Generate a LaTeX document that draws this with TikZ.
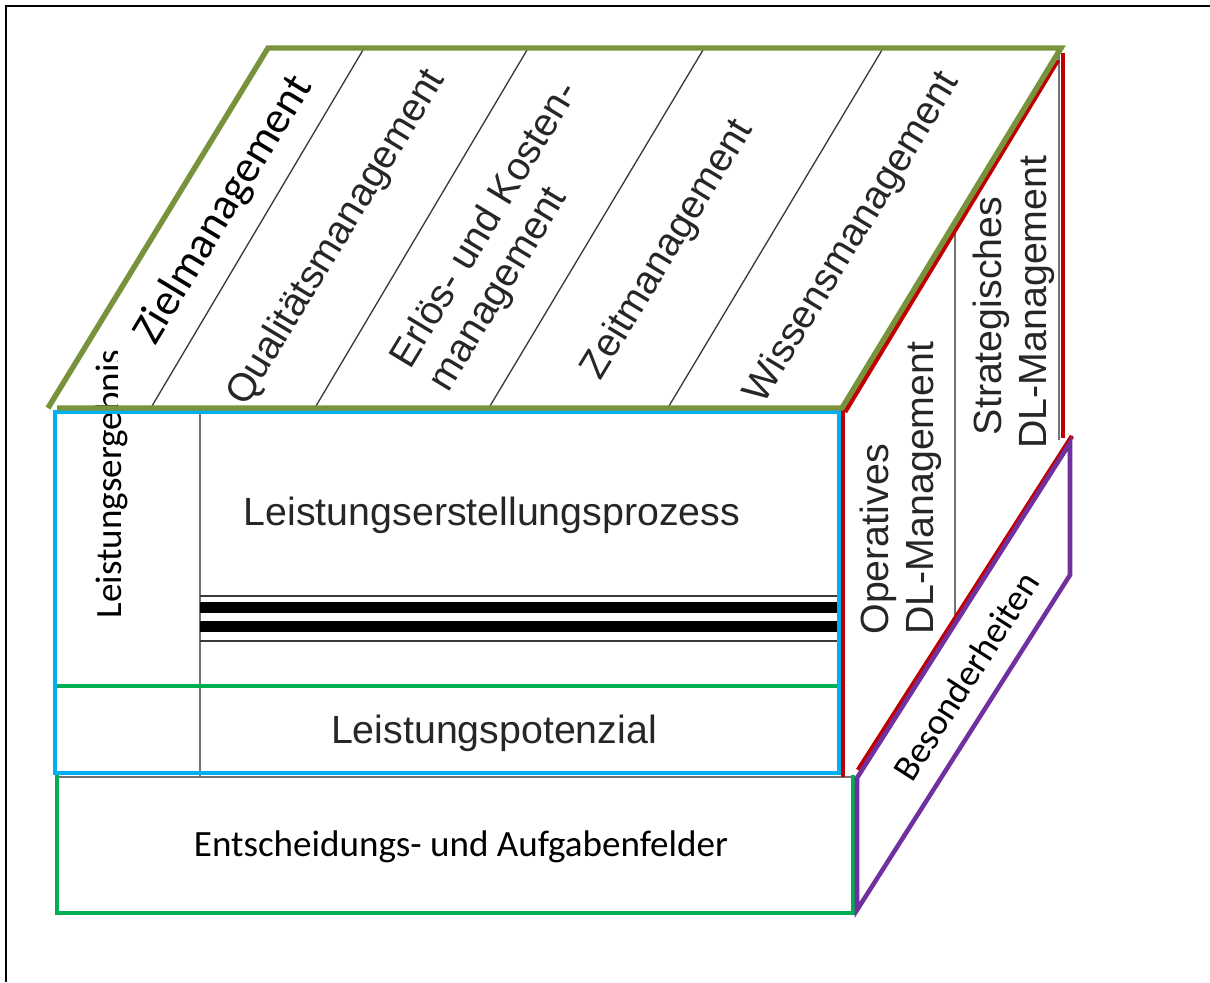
\documentclass[tikz,border=0pt]{standalone}
\usepackage{fontspec}
\newfontfamily\calfont{Carlito}
\newfontfamily\arialfont{Liberation Sans}
\definecolor{cOlive}{HTML}{77933C}
\definecolor{cRed}{HTML}{C00000}
\definecolor{cCyan}{HTML}{00B0F0}
\definecolor{cGreen}{HTML}{00B050}
\definecolor{cPurple}{HTML}{7030A0}
\definecolor{cText}{HTML}{262626}
\definecolor{cLine}{HTML}{3A3A3A}
\tikzset{
  arialtxt/.style={font=\arialfont\fontsize{29.5pt}{33.5pt}\selectfont, text=cText, inner sep=0pt},
  caltxt/.style={font=\calfont\fontsize{27.8pt}{33pt}\selectfont, text=black, inner sep=0pt},
  zieltxt/.style={font=\calfont\fontsize{33.5pt}{40pt}\selectfont, text=black, inner sep=0pt},
  thinline/.style={draw=cLine, line width=1.0pt},
  grayline/.style={draw=black!55, line width=1.2pt},
  edgeolive/.style={draw=cOlive, line width=4.1pt},
  edgered/.style={draw=cRed, line width=3.4pt},
  edgecyan/.style={draw=cCyan, line width=3.5pt},
  edgegreen/.style={draw=cGreen, line width=3.4pt},
  edgepurple/.style={draw=cPurple, line width=3.4pt},
}
\begin{document}
\begin{tikzpicture}[x=0.75pt,y=-0.75pt]
\useasboundingbox (0,0) rectangle (1210,982);
% frame
\draw[black, line width=1.8pt] (1210,6) -- (6,6) -- (6,982);

% top face dividers
\draw[thinline] (363,50) -- (152,406);
\draw[thinline] (527,50) -- (316,406);
\draw[thinline] (703,50) -- (490,406);
\draw[thinline] (882,50) -- (669,406);

% top face texts
\node[zieltxt, rotate=58.8] (ziel) at (224,210) {Zielmanagement};
\node[arialtxt, rotate=58.8] (qual) at (337,238) {Qualitätsmanagement};
\node[arialtxt, rotate=58.8, align=left] (erloes) at (505,237) {Erlös- und Kosten-\\management};
\node[arialtxt, rotate=58.8] (zeit) at (668,250) {Zeitmanagement};
\node[arialtxt, rotate=58.8] (wissen) at (853,238) {Wissensmanagement};

% front face
\draw[grayline] (200,412) -- (200,777);
\draw[grayline] (57,777) -- (853,777);
\draw[thinline] (200,596) -- (837,596);
\draw[thinline] (200,641) -- (837,641);
\fill[black] (200,602) rectangle (837,613);
\fill[black] (200,621) rectangle (837,632);
\node[arialtxt, anchor=base] (prozess) at (492,525) {Leistungserstellungsprozess};
\node[arialtxt, anchor=base] (potenzial) at (494,743) {Leistungspotenzial};
\node[caltxt, anchor=base] (entsch) at (461,856) {Entscheidungs- und Aufgabenfelder};
\begin{scope}
  \clip (60,776) rectangle (199,408) (90,408) rectangle (117,340);
  \node[caltxt, rotate=90] (ergebnis) at (112,484) {Leistungsergebnis};
\end{scope}

% right face
\draw[grayline] (955,230) -- (955,615);
\draw[grayline] (1059,50) -- (1059,440);
\node[arialtxt, rotate=90, align=left] (operativ) at (901,488) {Operatives\\DL-Management};
\node[arialtxt, rotate=90, align=left] (strateg) at (1014,302) {\hspace*{10pt}Strategisches\\DL-Management};
\node[caltxt, rotate=57.4] (besonder) at (966,676) {Besonderheiten};

% coloured outlines
\draw[edgegreen] (57,775) -- (57,913) -- (853,913) -- (853,775);
\draw[edgegreen] (55,686) -- (839,686);
\draw[edgecyan] (55,412) rectangle (839,773);
\draw[edgered] (843,410) -- (843,777);
\draw[edgered] (845,412) -- (1058,60);
\draw[edgered] (1063,53) -- (1063,438);
\draw[edgered] (858,770) -- (1072,436);
\draw[edgepurple] (857,778) -- (1070,443) -- (1070,575) -- (857,910) -- cycle;
\draw[edgeolive] (57,408) -- (842,408) -- (1061,48) -- (268,48) -- (48,408);
\end{tikzpicture}
\end{document}
